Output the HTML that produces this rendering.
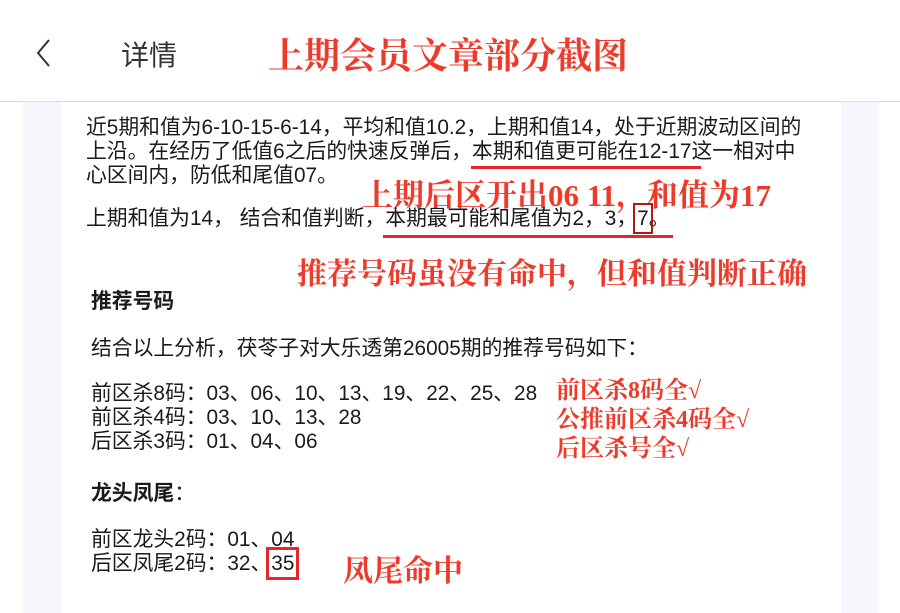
<!DOCTYPE html>
<html><head><meta charset="utf-8"><style>
body{margin:0;width:900px;height:613px;position:relative;overflow:hidden;background:#fff;font-family:"Liberation Sans","Noto Sans CJK SC",sans-serif}
.a{position:absolute;white-space:nowrap}
.t{font-size:20.8px;color:#1a1a1a;line-height:24px}
.r{font-family:"Liberation Serif","Noto Serif CJK SC",serif;font-weight:bold;color:#ee3a2a}
.b7{outline:2px solid #b01a14;outline-offset:2px}
.b35{outline:3px solid #e8262a;outline-offset:2px}
</style></head><body>
<div class="a" style="left:0;top:101px;width:900px;height:1px;background:#ddd"></div>
<div class="a" style="left:23px;top:102px;width:855px;height:511px;background:#f6f7fc"></div>
<div class="a" style="left:61px;top:102px;width:780px;height:511px;background:#fff"></div>
<svg class="a" style="left:34px;top:38px" width="20" height="30"><polyline points="15,2 4,15 15,28" fill="none" stroke="#333" stroke-width="2"/></svg>
<div class="a" style="left:121px;top:34px;font-size:28px;color:#333">详情</div>
<div class="a r" style="left:268px;top:28px;font-size:36px">上期会员文章部分截图</div>
<div class="a t" style="left:86px;top:116px">近5期和值为6-10-15-6-14，平均和值10.2，上期和值14，处于近期波动区间的<br>上沿。在经历了低值6之后的快速反弹后，本期和值更可能在12-17这一相对中<br>心区间内，防低和尾值07。</div>
<div class="a" style="left:471px;top:166px;width:230px;height:3px;background:#e8262a"></div>
<div class="a r" style="left:362px;top:170px;font-size:31px">上期后区开出06 11，和值为17</div>
<div class="a t" style="left:86px;top:207px">上期和值为14， 结合和值判断，本期最可能和尾值为2，3，<span class="b7">7</span>。</div>
<div class="a" style="left:383px;top:235px;width:290px;height:3px;background:#e8262a"></div>
<div class="a r" style="left:297px;top:249px;font-size:30px">推荐号码虽没有命中，但和值判断正确</div>
<div class="a t" style="left:91px;top:290px;font-weight:bold">推荐号码</div>
<div class="a t" style="left:91px;top:337px">结合以上分析，茯苓子对大乐透第26005期的推荐号码如下：</div>
<div class="a t" style="left:91px;top:382px">前区杀8码：03、06、10、13、19、22、25、28<br>前区杀4码：03、10、13、28<br>后区杀3码：01、04、06</div>
<div class="a r" style="left:556px;top:377px;font-size:24px;line-height:29px">前区杀8码全√<br>公推前区杀4码全√<br>后区杀号全√</div>
<div class="a t" style="left:91px;top:482px;font-weight:bold">龙头凤尾<span style="font-weight:normal">：</span></div>
<div class="a t" style="left:91px;top:528px">前区龙头2码：01、04<br>后区凤尾2码：32、<span class="b35">35</span></div>
<div class="a r" style="left:343px;top:546px;font-size:30px">凤尾命中</div>
</body></html>
